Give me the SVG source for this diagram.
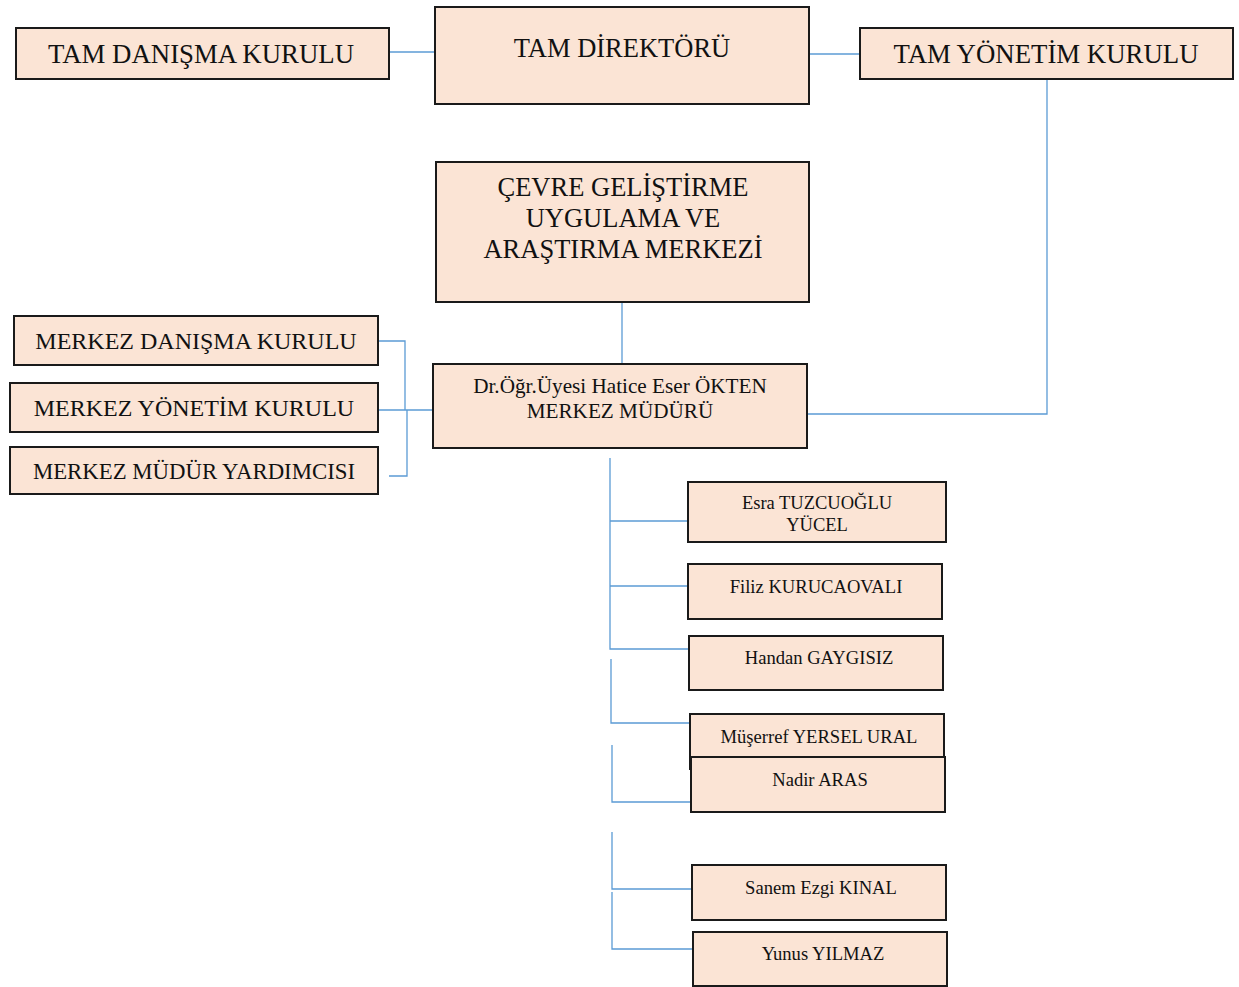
<svg xmlns="http://www.w3.org/2000/svg" width="1239" height="987" viewBox="0 0 1239 987">
<style>
.box{fill:#FBE4D5;stroke:#1a1a1a;stroke-width:2}
.t{font-family:"Liberation Serif","Times New Roman",serif;fill:#111;text-anchor:middle}
.c{fill:none;stroke:#5B9BD5;stroke-width:1.3}
</style>
<rect width="1239" height="987" fill="#fff"/>
<g id="connectors">
<path class="c" d="M389 52H435"/>
<path class="c" d="M809 54H860"/>
<path class="c" d="M1047 79V414H807"/>
<path class="c" d="M622 302V364"/>
<path class="c" d="M378 341H405V410"/>
<path class="c" d="M378 410H433"/>
<path class="c" d="M407 410V476H389"/>
<path class="c" d="M610 458V649H690"/>
<path class="c" d="M610 521H688"/>
<path class="c" d="M610 586H688"/>
<path class="c" d="M611 659V723H690"/>
<path class="c" d="M612 745V802H691"/>
<path class="c" d="M612 832V889H692"/>
<path class="c" d="M612 892V949H693"/>
</g>
<g id="tam-danisma"><rect class="box" x="16" y="28" width="373" height="51"/><text class="t" x="201" y="63" font-size="26.8">TAM DANIŞMA KURULU</text></g>
<g id="tam-direktoru"><rect class="box" x="435" y="7" width="374" height="97"/><text class="t" x="622" y="57" font-size="26.5">TAM DİREKTÖRÜ</text></g>
<g id="tam-yonetim"><rect class="box" x="860" y="28" width="373" height="51"/><text class="t" x="1046" y="63" font-size="26.8">TAM YÖNETİM KURULU</text></g>
<g id="merkez"><rect class="box" x="436" y="162" width="373" height="140"/><text class="t" font-size="26.5"><tspan x="623" y="196">ÇEVRE GELİŞTİRME</tspan><tspan x="623" y="227">UYGULAMA VE</tspan><tspan x="623" y="258">ARAŞTIRMA MERKEZİ</tspan></text></g>
<g id="mudur"><rect class="box" x="433" y="364" width="374" height="84"/><text class="t" font-size="21.2"><tspan x="620" y="393">Dr.Öğr.Üyesi Hatice Eser ÖKTEN</tspan><tspan x="620" y="418">MERKEZ MÜDÜRÜ</tspan></text></g>
<g id="merkez-danisma"><rect class="box" x="14" y="316" width="364" height="49"/><text class="t" x="196" y="349" font-size="24">MERKEZ DANIŞMA KURULU</text></g>
<g id="merkez-yonetim"><rect class="box" x="10" y="383" width="368" height="49"/><text class="t" x="194" y="416" font-size="24">MERKEZ YÖNETİM KURULU</text></g>
<g id="mudur-yardimcisi"><rect class="box" x="10" y="447" width="368" height="47"/><text class="t" x="194" y="479" font-size="22.8">MERKEZ MÜDÜR YARDIMCISI</text></g>
<g id="esra"><rect class="box" x="688" y="482" width="258" height="60"/><text class="t" font-size="18.5"><tspan x="817" y="509">Esra TUZCUOĞLU</tspan><tspan x="817" y="531">YÜCEL</tspan></text></g>
<g id="filiz"><rect class="box" x="688" y="564" width="254" height="55"/><text class="t" x="816" y="593" font-size="18.6">Filiz KURUCAOVALI</text></g>
<g id="handan"><rect class="box" x="689" y="636" width="254" height="54"/><text class="t" x="819" y="664" font-size="18.6">Handan GAYGISIZ</text></g>
<g id="muserref"><rect class="box" x="690" y="714" width="254" height="55"/><text class="t" x="819" y="743" font-size="18.6">Müşerref YERSEL URAL</text></g>
<g id="nadir"><rect class="box" x="691" y="757" width="254" height="55"/><text class="t" x="820" y="786" font-size="18.6">Nadir ARAS</text></g>
<g id="sanem"><rect class="box" x="692" y="865" width="254" height="55"/><text class="t" x="821" y="894" font-size="18.6">Sanem Ezgi KINAL</text></g>
<g id="yunus"><rect class="box" x="693" y="932" width="254" height="54"/><text class="t" x="823" y="960" font-size="18.6">Yunus YILMAZ</text></g>
</svg>
